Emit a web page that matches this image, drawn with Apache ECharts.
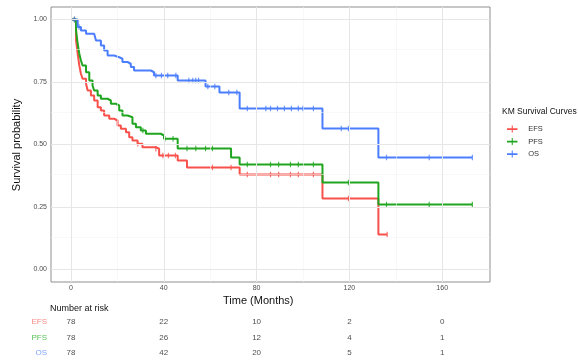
<!DOCTYPE html>
<html><head><meta charset="utf-8">
<script src="https://cdn.jsdelivr.net/npm/echarts@6/dist/echarts.min.js"></script>
<style>html,body{margin:0;padding:0;background:#fff}#c{width:578px;height:362px}</style>
</head><body><div id="c"></div>
<script>
// ---- data ----
const efsTime = [0, 2.2, 2.9, 3.6, 4.3, 5, 6.5, 7.2, 8.6, 10, 11.5, 12.9, 14.3, 16.5, 18.6, 20.1, 21.5, 23.7, 25.1, 26.5, 28.7, 30.8, 36.6, 38, 46, 50, 72.7, 108.4, 132.5, 136.3];
const efsSurv = [1, 0.916, 0.863, 0.816, 0.783, 0.763, 0.743, 0.716, 0.696, 0.676, 0.649, 0.636, 0.616, 0.603, 0.596, 0.576, 0.563, 0.549, 0.529, 0.516, 0.503, 0.489, 0.483, 0.456, 0.436, 0.408, 0.38, 0.284, 0.14, 0.14];
const pfsTime = [0, 2.2, 2.9, 3.6, 4.3, 5, 6.5, 7.9, 9.3, 10, 11.5, 12.9, 15.8, 17.2, 19.4, 20.8, 22.2, 24.4, 26.5, 28, 30.1, 32.3, 38.7, 40.1, 46, 69, 72.7, 108.4, 132.5, 173];
const pfsSurv = [1, 0.956, 0.903, 0.863, 0.836, 0.816, 0.789, 0.756, 0.736, 0.716, 0.696, 0.683, 0.676, 0.663, 0.656, 0.636, 0.616, 0.609, 0.583, 0.569, 0.556, 0.543, 0.536, 0.523, 0.484, 0.448, 0.42, 0.348, 0.26, 0.26];
const osTime = [0, 2.9, 4.3, 6.5, 10, 10.8, 12.9, 14.3, 15.8, 18.6, 20.8, 22.2, 24.4, 25.8, 27.2, 34.4, 35.8, 46, 58, 64, 72.7, 108.4, 132.5, 173];
const osSurv = [1, 0.97, 0.956, 0.943, 0.936, 0.916, 0.896, 0.876, 0.856, 0.849, 0.843, 0.83, 0.823, 0.81, 0.796, 0.789, 0.776, 0.756, 0.732, 0.708, 0.644, 0.564, 0.448, 0.448];

const efsCensor = [1.5, 28.8, 36.6, 39.6, 42, 45, 61, 69, 76, 86, 89.5, 94.6, 98, 104.5, 119.6, 136.3];
const pfsCensor = [1.5, 31, 40.5, 44, 50, 53.8, 58, 61, 76, 86, 89.5, 94.6, 98, 104.5, 119.6, 136, 154.4, 173];
const osCensor = [1.5, 3.5, 36.6, 39, 41.7, 45.2, 50.8, 52.5, 53.8, 55, 59, 62, 68, 71.5, 76, 84, 86, 89, 92, 95, 98, 100, 104.5, 116.5, 119.6, 136, 154.4, 173];

const riskTimes = [0, 40, 80, 120, 160];
const efsRisk = [78, 22, 10, 2, 0];
const pfsRisk = [78, 26, 12, 4, 1];
const osRisk = [78, 42, 20, 5, 1];

const xTicks = [0, 40, 80, 120, 160];
const xMinor = [20, 60, 100, 140];
const yTicks = [0, 0.25, 0.5, 0.75, 1];
const yMinor = [0.125, 0.375, 0.625, 0.875];

// ---- styling ----
const C = {EFS: '#F8514B', PFS: '#1FA51F', OS: '#4A7EFF'};
const CL = {EFS: '#F98A86', PFS: '#5BC25B', OS: '#7FA3FF'};
const FONT = 'Liberation Sans, Arial, sans-serif';
const XMIN = -8.6, XMAX = 180.6;

function survAt(times, surv, t) {
  let v = surv[0];
  for (let i = 0; i < times.length; i++) if (times[i] <= t) v = surv[i];
  return v;
}
const zip = (a, b) => a.map((v, i) => [v, b[i]]);

const groups = [
  {name: 'EFS', t: efsTime, s: efsSurv, c: efsCensor, r: efsRisk},
  {name: 'PFS', t: pfsTime, s: pfsSurv, c: pfsCensor, r: pfsRisk},
  {name: 'OS', t: osTime, s: osSurv, c: osCensor, r: osRisk}
];

const series = [];
series.push({
  type: 'scatter', xAxisIndex: 0, yAxisIndex: 0, data: [], z: 0, silent: true,
  markLine: {
    silent: true, symbol: 'none', label: {show: false}, animation: false,
    data: [
      ...xMinor.map(v => ({xAxis: v, lineStyle: {color: '#f4f4f4', width: 0.6, type: 'solid'}})),
      ...yMinor.map(v => ({yAxis: v, lineStyle: {color: '#f4f4f4', width: 0.6, type: 'solid'}})),
      ...xTicks.map(v => ({xAxis: v, lineStyle: {color: '#e6e6e6', width: 1, type: 'solid'}})),
      ...yTicks.map(v => ({yAxis: v, lineStyle: {color: '#e6e6e6', width: 1, type: 'solid'}}))
    ]
  }
});
groups.forEach(g => {
  series.push({
    name: g.name, type: 'line', step: 'end', xAxisIndex: 0, yAxisIndex: 0,
    data: zip(g.t, g.s), showSymbol: false, symbol: 'none', z: 3,
    lineStyle: {color: C[g.name], width: 2}, itemStyle: {color: C[g.name]}
  });
  series.push({
    name: g.name + '_censor', type: 'scatter', xAxisIndex: 0, yAxisIndex: 0,
    data: g.c.map(t => [t, survAt(g.t, g.s, t)]),
    symbol: 'rect', symbolSize: [1.2, 5.5], z: 4,
    itemStyle: {color: C[g.name]}
  });
});
const riskCats = ['OS', 'PFS', 'EFS'];
groups.forEach(g => {
  series.push({
    name: g.name + '_risk', type: 'scatter', xAxisIndex: 1, yAxisIndex: 1,
    data: riskTimes.map((t, i) => [t, g.name, g.r[i]]),
    symbolSize: 0,
    label: {show: true, position: 'inside', formatter: p => String(p.data[2]),
      color: '#222', fontSize: 8, fontFamily: FONT}
  });
});

const chart = echarts.init(document.getElementById('c'), null, {renderer: 'canvas'});
chart.setOption({
  animation: false,
  backgroundColor: '#fff',
  grid: [
    {left: 51, top: 7, width: 439, height: 275, show: true, borderColor: '#8f8f8f', borderWidth: 1, backgroundColor: '#fff'},
    {left: 51, top: 314, width: 439, height: 47, show: false}
  ],
  xAxis: [
    {type: 'value', gridIndex: 0, min: XMIN, max: XMAX,
      axisLine: {show: false}, splitLine: {show: false},
      axisTick: {show: true, length: 3, customValues: xTicks, lineStyle: {color: '#555'}},
      axisLabel: {customValues: xTicks, fontSize: 7, color: '#4d4d4d', margin: 3, fontFamily: FONT}},
    {type: 'value', gridIndex: 1, min: XMIN, max: XMAX, show: false}
  ],
  yAxis: [
    {type: 'value', gridIndex: 0, min: -0.05, max: 1.05,
      axisLine: {show: false}, splitLine: {show: false},
      axisTick: {show: true, length: 3, customValues: yTicks, lineStyle: {color: '#555'}},
      axisLabel: {customValues: yTicks, fontSize: 7, color: '#4d4d4d', margin: 4, fontFamily: FONT,
        formatter: v => v.toFixed(2)}},
    {type: 'category', gridIndex: 1, data: riskCats,
      axisLine: {show: false}, axisTick: {show: false}, splitLine: {show: false},
      axisLabel: {margin: 4, fontSize: 8, fontFamily: FONT,
        formatter: v => '{' + v + '|' + v + '}',
        rich: {EFS: {color: CL.EFS, fontSize: 8}, PFS: {color: CL.PFS, fontSize: 8}, OS: {color: CL.OS, fontSize: 8}}}}
  ],
  legend: {
    data: ['EFS', 'PFS', 'OS'], orient: 'vertical', left: 502, top: 120,
    itemWidth: 12, itemHeight: 7, itemGap: 4.5,
    icon: 'path://M0,3 L12,3 L12,5 L0,5 Z M5.4,0 L6.6,0 L6.6,8 L5.4,8 Z',
    textStyle: {fontSize: 7.5, color: '#333', fontFamily: FONT, padding: [0, 0, 0, 5]}
  },
  graphic: [
    {type: 'text', left: 502, top: 107, style: {text: 'KM Survival Curves', fontSize: 8.5, fill: '#111', fontFamily: FONT}},
    {type: 'text', x: 17, y: 145, rotation: Math.PI / 2,
      style: {text: 'Survival probability', fontSize: 11, fill: '#111', fontFamily: FONT, align: 'center', verticalAlign: 'middle'}},
    {type: 'text', left: 223, top: 295, style: {text: 'Time (Months)', fontSize: 11, fill: '#111', fontFamily: FONT}},
    {type: 'text', left: 50, top: 304, style: {text: 'Number at risk', fontSize: 9, fill: '#111', fontFamily: FONT}}
  ],
  series: series
});
</script>
</body></html>
